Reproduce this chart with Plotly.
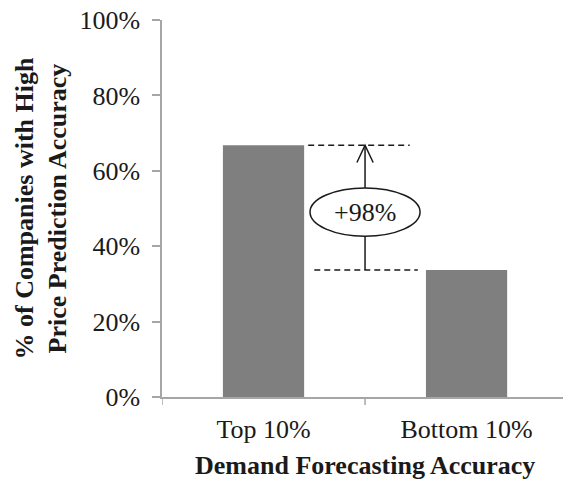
import plotly.graph_objects as go

# Share of companies with high price-prediction accuracy, by demand-forecasting tier
categories = ["Top 10%", "Bottom 10%"]
shares = [0.668, 0.337]
y_ticks = [0, 0.2, 0.4, 0.6, 0.8, 1.0]
y_tick_labels = ["0%", "20%", "40%", "60%", "80%", "100%"]
uplift_label = "+98%"

SERIF = "Liberation Serif, Times New Roman, serif"
AXIS_GREY = "#a6a6a6"
BAR_GREY = "#7f7f7f"
INK = "#1a1a1a"

fig = go.Figure(
    go.Bar(
        x=[0, 1],
        y=shares,
        width=0.4,
        marker=dict(color=BAR_GREY, line=dict(width=0)),
        hoverinfo="skip",
    )
)

hi, lo = shares
mid = 0.5  # boundary between the two categories

# dashed guide lines at the two bar heights
fig.add_shape(type="line", xref="x", yref="y", x0=0.22, x1=0.72, y0=hi, y1=hi,
              line=dict(color=INK, width=1.5, dash="6px,4px"))
fig.add_shape(type="line", xref="x", yref="y", x0=0.25, x1=0.76, y0=lo, y1=lo,
              line=dict(color=INK, width=1.5, dash="6px,4px"))

# vertical arrow from the lower level up to the higher one
fig.add_shape(type="line", xref="x", yref="y", x0=mid, x1=mid, y0=lo, y1=hi,
              line=dict(color=INK, width=1.5))
head_dx, head_dy = 0.04, 0.046
fig.add_shape(type="path", xref="x", yref="y",
              path=f"M {mid - head_dx} {hi - head_dy} L {mid} {hi} L {mid + head_dx} {hi - head_dy}",
              line=dict(color=INK, width=1.5))

# oval label on the arrow
ell_y = (hi + lo) / 2 - 0.012
fig.add_shape(type="circle", xref="x", yref="y",
              x0=mid - 0.271, x1=mid + 0.271, y0=ell_y - 0.064, y1=ell_y + 0.064,
              fillcolor="white", line=dict(color=INK, width=1.5))
fig.add_annotation(x=mid, y=ell_y, xref="x", yref="y", text=uplift_label,
                   showarrow=False, font=dict(family=SERIF, size=26, color=INK))

# axis titles
fig.add_annotation(xref="paper", yref="paper", x=(364.5 - 162) / 401, y=0,
                   yanchor="top", yshift=-52, showarrow=False,
                   text="<b>Demand Forecasting Accuracy</b>",
                   font=dict(family=SERIF, size=26, color=INK))
fig.add_annotation(xref="paper", yref="paper", x=0, y=0.5, xanchor="center",
                   xshift=-121, showarrow=False, textangle=-90,
                   text="<b>% of Companies with High<br>Price Prediction Accuracy</b>",
                   font=dict(family=SERIF, size=26, color=INK))

fig.update_layout(
    width=563,
    height=479,
    margin=dict(l=162, r=0, t=20, b=82),
    paper_bgcolor="white",
    plot_bgcolor="white",
    showlegend=False,
    font=dict(family=SERIF, size=26, color=INK),
    xaxis=dict(
        range=[-0.5, 1.475],
        tickmode="array",
        tickvals=[0, 1],
        ticktext=categories,
        showgrid=False,
        zeroline=False,
        showline=True,
        linecolor=AXIS_GREY,
        linewidth=1.5,
        ticks="",
        ticklabelstandoff=8,
        tickfont=dict(family=SERIF, size=26, color=INK),
    ),
    yaxis=dict(
        range=[0, 1],
        tickmode="array",
        tickvals=y_ticks,
        ticktext=y_tick_labels,
        showgrid=False,
        zeroline=False,
        showline=True,
        linecolor=AXIS_GREY,
        linewidth=1.5,
        ticks="outside",
        ticklen=8,
        tickwidth=1.5,
        tickcolor=AXIS_GREY,
        ticklabelstandoff=7,
        tickfont=dict(family=SERIF, size=26, color=INK),
    ),
)

# category-boundary tick marks on the x axis
for bx in [-0.5, 0.5]:
    fig.add_shape(type="line", xref="x", yref="y domain", x0=bx, x1=bx,
                  y0=0, y1=-8 / 377, line=dict(color=AXIS_GREY, width=1.5))

fig.write_html("out.html")
